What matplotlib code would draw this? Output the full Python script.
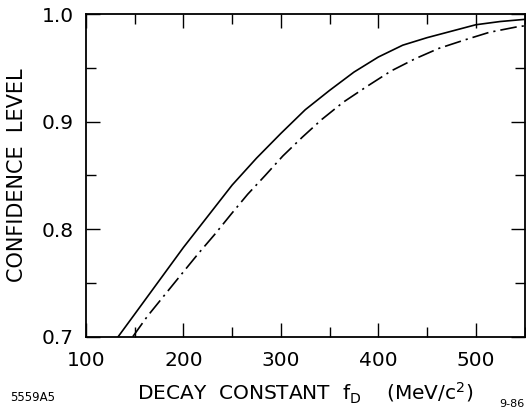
import numpy as np
import matplotlib
matplotlib.use('Agg')
import matplotlib.pyplot as plt
from matplotlib.ticker import MultipleLocator

#%% Curves

# solid curve
solid_x = [133, 150, 175, 200, 225, 250, 275, 300, 325, 350, 375, 400,
           425, 450, 475, 500, 525, 550]
solid_y = [0.700, 0.721, 0.752, 0.783, 0.812, 0.841, 0.866, 0.889, 0.911,
           0.929, 0.946, 0.960, 0.971, 0.978, 0.984, 0.990, 0.993, 0.995]

# dash-dot curve
dd_x = [148, 163, 180, 197, 215, 232, 249, 266, 284, 302, 322, 342, 364,
        388, 413, 438, 462, 489, 514, 542, 550]
dd_y = [0.700, 0.719, 0.738, 0.757, 0.777, 0.795, 0.814, 0.8325, 0.850,
        0.868, 0.8855, 0.902, 0.918, 0.9325, 0.947, 0.9585, 0.968, 0.976,
        0.983, 0.988, 0.989]

x_ticks = [100, 200, 300, 400, 500]
y_ticks = [0.7, 0.8, 0.9, 1.0]

#%% Plot
plt.rcParams['font.family'] = ['DejaVu Sans']

fig = plt.figure(figsize=(5.26, 4.15), dpi=100)
ax = fig.add_axes([86/526, 1 - 336.7/415, 438.5/526, 322.7/415])

ax.plot(solid_x, solid_y, color='black', lw=1.2)
ax.plot(dd_x, dd_y, color='black', lw=1.2, dashes=(10, 3, 1.3, 3))

ax.set_xlim(100, 550)
ax.set_ylim(0.7, 1.0)
ax.set_xticks(x_ticks)
ax.set_yticks(y_ticks)
ax.set_xticklabels([str(v) for v in x_ticks])
ax.set_yticklabels(['%.1f' % v for v in y_ticks])
ax.xaxis.set_minor_locator(MultipleLocator(50))
ax.yaxis.set_minor_locator(MultipleLocator(0.05))
ax.tick_params(which='both', direction='in', top=True, right=True,
               width=1, labelsize=14.5)
ax.tick_params(axis='x', pad=10)
ax.tick_params(axis='y', pad=9)
ax.tick_params(which='major', length=10)
ax.tick_params(which='minor', length=7)
for s in ax.spines.values():
    s.set_linewidth(1.3)

ax.set_xlabel(r'DECAY  CONSTANT  $\mathregular{f_D}$    (MeV/c$\mathregular{^2}$)',
              fontsize=14.5, labelpad=8)
ax.set_ylabel('CONFIDENCE  LEVEL', fontsize=15, labelpad=10)

fig.text(10/526, 1 - 397/415, '5559A5', fontsize=8.5, va='center')
fig.text(524/526, 1 - 404/415, '9-86', fontsize=8, va='center', ha='right')

plt.savefig('out.png', dpi=100)
